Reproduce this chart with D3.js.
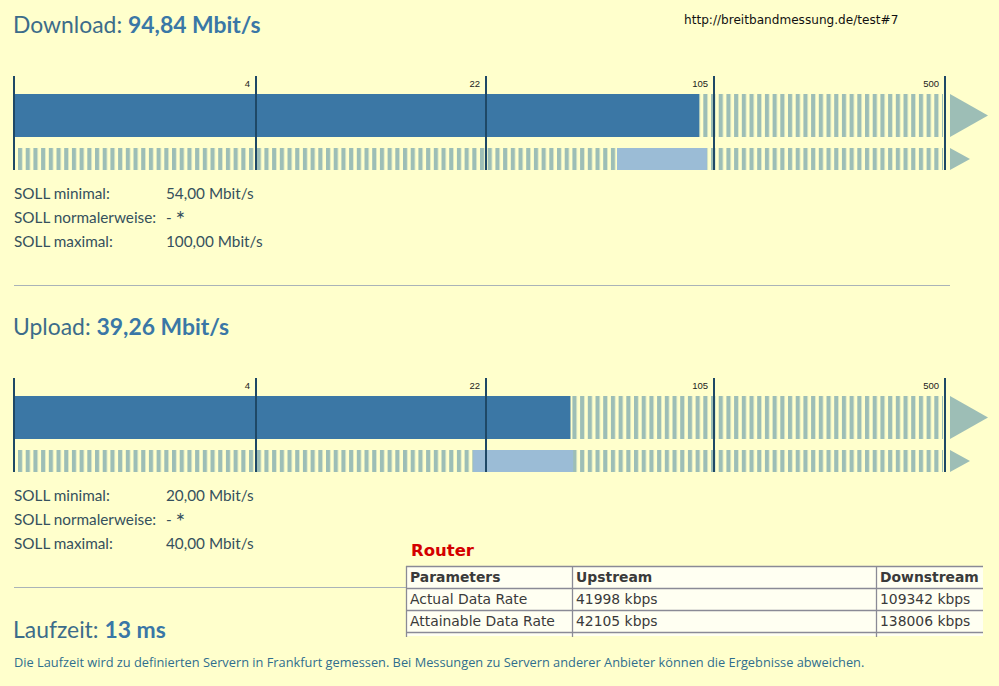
<!DOCTYPE html>
<html><head><meta charset="utf-8">
<script src="https://cdn.jsdelivr.net/npm/d3@7"></script>
<style>html,body{margin:0;padding:0;background:#ffffcc;overflow:hidden}</style>
</head><body>
<script>
// ---- data ----
const sectionTitles = ["Download:", "Upload:"];
const measuredValues = [94.84, 39.26];
const measuredLabels = ["94,84 Mbit/s", "39,26 Mbit/s"];
const sollMin = [54, 20];
const sollMax = [100, 40];
const sollLabels = ["SOLL minimal:", "SOLL normalerweise:", "SOLL maximal:"];
const sollTexts = [["54,00 Mbit/s", "- *", "100,00 Mbit/s"], ["20,00 Mbit/s", "- *", "40,00 Mbit/s"]];
const scaleBreaks = [1, 4, 22, 105, 500];
const tickValues = [4, 22, 105, 500];
const latencyLabel = "Laufzeit:";
const latencyValue = "13 ms";
const footnote = "Die Laufzeit wird zu definierten Servern in Frankfurt gemessen. Bei Messungen zu Servern anderer Anbieter können die Ergebnisse abweichen.";
const urlText = "http://breitbandmessung.de/test#7";
const routerTitle = "Router";
const tableHeader = ["Parameters", "Upstream", "Downstream"];
const tableRows = [["Actual Data Rate", "41998 kbps", "109342 kbps"], ["Attainable Data Rate", "42105 kbps", "138006 kbps"]];

// ---- drawing ----
const W = 999, H = 686;
const svg = d3.select("body").append("svg").attr("width", W).attr("height", H);
svg.append("rect").attr("width", W).attr("height", H).attr("fill", "#ffffcc");

const defs = svg.append("defs");
const pat = defs.append("pattern").attr("id", "stripes").attr("patternUnits", "userSpaceOnUse")
  .attr("x", 18).attr("y", 0).attr("width", 7.7).attr("height", 10);
pat.append("rect").attr("width", 4.2).attr("height", 10).attr("fill", "#9dbeb6");

const x = d3.scaleLog().domain(scaleBreaks).range([14, 256, 486, 714, 945]);
const x0 = x.range()[0], xEnd = x.range()[x.range().length - 1];

const titleFont = "Lato, 'Open Sans', sans-serif";

svg.append("text").attr("x", 684).attr("y", 24).attr("font-family", "'DejaVu Sans', sans-serif")
  .attr("font-size", 12.1).attr("fill", "#111").text(urlText);

sectionTitles.forEach((t, i) => {
  const oy = i * 302;
  const g = svg.append("g").attr("transform", `translate(0,${oy})`);
  const tt = g.append("text").attr("x", 13).attr("y", 33).attr("font-family", titleFont).attr("font-size", 22.9);
  tt.append("tspan").attr("fill", "#3c6c8a").text(t + " ");
  tt.append("tspan").attr("fill", "#3a77a6").attr("font-weight", "bold").text(measuredLabels[i]);

  // row 1: stripes + measured bar
  g.append("rect").attr("x", x0 + 4).attr("y", 94).attr("width", xEnd - 2 - (x0 + 4)).attr("height", 43).attr("fill", "url(#stripes)");
  g.append("rect").attr("x", x0).attr("y", 94).attr("width", x(measuredValues[i]) - x0).attr("height", 43).attr("fill", "#3b77a5");
  // row 2: stripes + expected range
  g.append("rect").attr("x", x0 + 4).attr("y", 148).attr("width", xEnd - 2 - (x0 + 4)).attr("height", 22).attr("fill", "url(#stripes)");
  g.append("rect").attr("x", x(sollMin[i])).attr("y", 148).attr("width", x(sollMax[i]) - x(sollMin[i])).attr("height", 22).attr("fill", "#9bbcd6");
  // arrows
  g.append("path").attr("d", `M${xEnd + 5},94 L${xEnd + 43},115.5 L${xEnd + 5},137 Z`).attr("fill", "#9dbeb6");
  g.append("path").attr("d", `M${xEnd + 5},148 L${xEnd + 25},159 L${xEnd + 5},170 Z`).attr("fill", "#9dbeb6");
  // ticks
  const ticks = [x0].concat(tickValues.map(v => x(v)));
  g.selectAll("line.tick").data(ticks).join("line").attr("class", "tick")
    .attr("x1", d => d).attr("x2", d => d).attr("y1", 76).attr("y2", 170)
    .attr("stroke", "#1e4866").attr("stroke-width", 2);
  g.selectAll("text.tl").data(tickValues).join("text").attr("class", "tl")
    .attr("x", d => x(d) - 6).attr("y", 87).attr("text-anchor", "end")
    .attr("font-family", "'Liberation Sans', Arial, sans-serif").attr("font-size", 9.5).attr("fill", "#222")
    .text(d => d);

  // SOLL text
  sollLabels.forEach((l, j) => {
    const y = 199 + j * 24;
    g.append("text").attr("x", 14).attr("y", y).attr("font-family", titleFont).attr("font-size", 15.3).attr("fill", "#35505d").text(l);
    const v = g.append("text").attr("x", 166).attr("y", y).attr("font-family", titleFont).attr("font-size", 15.3).attr("fill", "#35505d");
    const s = sollTexts[i][j];
    if (s.includes("*")) {
      v.append("tspan").text("- ");
      v.append("tspan").attr("font-size", 23).attr("dy", 5).text("*");
    } else v.text(s);
  });
});

// separators
svg.append("line").attr("x1", 14).attr("x2", 950).attr("y1", 285.5).attr("y2", 285.5).attr("stroke", "#aab3b8").attr("stroke-width", 1);
svg.append("line").attr("x1", 14).attr("x2", 406).attr("y1", 587.5).attr("y2", 587.5).attr("stroke", "#aab3b8").attr("stroke-width", 1);

// latency
const lt = svg.append("text").attr("x", 13).attr("y", 638).attr("font-family", titleFont).attr("font-size", 22.9);
lt.append("tspan").attr("fill", "#3c6c8a").text(latencyLabel + " ");
lt.append("tspan").attr("fill", "#3a77a6").attr("font-weight", "bold").text(latencyValue);
svg.append("text").attr("x", 14).attr("y", 667).attr("font-family", "'Open Sans', sans-serif").attr("font-size", 12.8).attr("fill", "#2f6e8e").text(footnote);

// router table
svg.append("text").attr("x", 411).attr("y", 556).attr("font-family", "'DejaVu Sans', sans-serif").attr("font-weight", "bold")
  .attr("font-size", 16.5).attr("fill", "#d40000").text(routerTitle);
const colX = [406, 572, 876, 983];
const rowY = [566, 588, 610, 632];
const tg = svg.append("g");
tg.append("rect").attr("x", colX[0]).attr("y", rowY[0]).attr("width", colX[3] - colX[0]).attr("height", 70).attr("fill", "#fffff2");
rowY.forEach(y => tg.append("line").attr("x1", colX[0]).attr("x2", colX[3]).attr("y1", y + 0.5).attr("y2", y + 0.5).attr("stroke", "#8a8a96").attr("stroke-width", 1.3));
colX.slice(0, 3).forEach(cx => tg.append("line").attr("x1", cx + 0.5).attr("x2", cx + 0.5).attr("y1", rowY[0]).attr("y2", 637).attr("stroke", "#8a8a96").attr("stroke-width", 1.3));
const allRows = [tableHeader].concat(tableRows);
allRows.forEach((r, ri) => {
  r.forEach((c, ci) => {
    tg.append("text").attr("x", colX[ci] + 4).attr("y", rowY[ri] + 16).attr("font-family", "'DejaVu Sans', sans-serif")
      .attr("font-size", 13.9).attr("font-weight", ri === 0 ? "bold" : "normal").attr("fill", "#3a3a3a").text(c);
  });
});
// clip right side of table (cut off in reference)
svg.append("rect").attr("x", 984).attr("y", 560).attr("width", 15).attr("height", 80).attr("fill", "#ffffcc");
svg.append("rect").attr("x", 400).attr("y", 637).attr("width", 590).attr("height", 10).attr("fill", "#ffffcc");
</script>
</body></html>
